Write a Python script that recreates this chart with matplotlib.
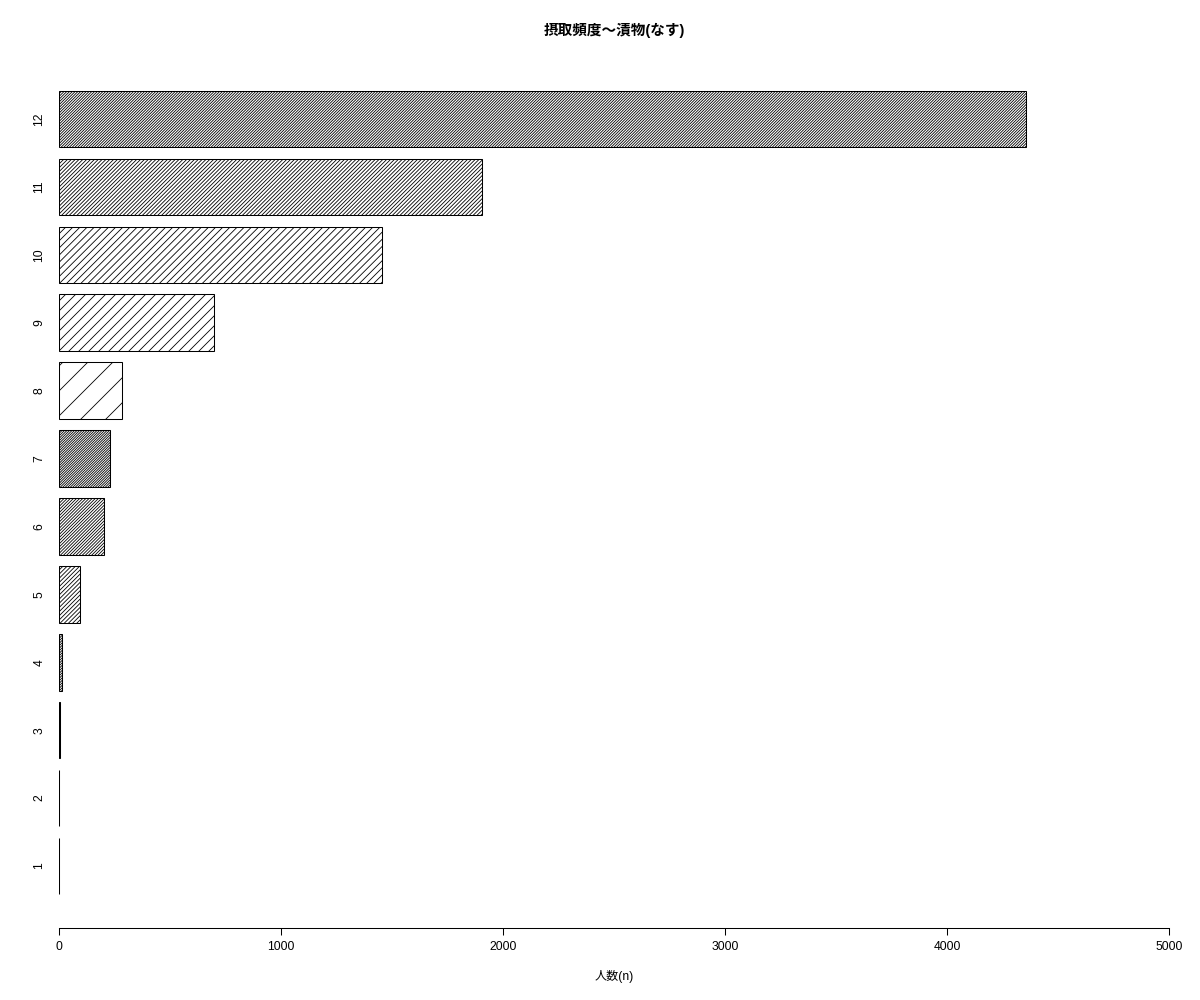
import matplotlib
matplotlib.use("Agg")
import matplotlib.pyplot as plt

plt.rcParams['font.family'] = ['Liberation Sans', 'Noto Sans CJK JP', 'DejaVu Sans']
plt.rcParams['hatch.linewidth'] = 0.4

# 摂取頻度カテゴリ 1..12 と人数
categories = ['1', '2', '3', '4', '5', '6', '7', '8', '9', '10', '11', '12']
counts = [1, 2, 6, 15, 95, 203, 230, 284, 698, 1455, 1905, 4355]
# number of '/' in each bar's hatch (line density)
hatch_n = [20, 20, 20, 20, 12, 16, 20, 2, 5, 7, 13, 18]
x_ticks = [0, 1000, 2000, 3000, 4000, 5000]

fig = plt.figure(figsize=(8, 6.6667), dpi=150)
ax = fig.add_axes([59 / 1200, 0.072, (1169 - 59) / 1200, 0.94 - 0.072])

pos = list(range(1, len(categories) + 1))
bars = ax.barh(pos, counts, height=0.833, color='white',
               edgecolor='black', linewidth=0.5)
for b, n in zip(bars, hatch_n):
    b.set_hatch('/' * n)

ax.set_xlim(0, 5000)
ax.set_ylim(0.087, 12.869)
ax.set_xticks(x_ticks)
ax.set_xticklabels([str(t) for t in x_ticks], fontsize=5.8)
ax.set_yticks(pos)
ax.set_yticklabels(categories, rotation=90, va='center', fontsize=5.8)
ax.tick_params(axis='x', length=3.4, width=0.5, pad=3)
ax.tick_params(axis='y', length=0, pad=6.5)

for s in ['top', 'right', 'left']:
    ax.spines[s].set_visible(False)
ax.spines['bottom'].set_linewidth(0.5)

ax.set_xlabel('人数(n)', fontsize=5.8, labelpad=8)
fig.text(614 / 1200, 1 - 30 / 1000, '摂取頻度～漬物(なす)', ha='center', va='center',
         fontsize=7, fontweight='bold')

fig.savefig('out.png', dpi=150)
